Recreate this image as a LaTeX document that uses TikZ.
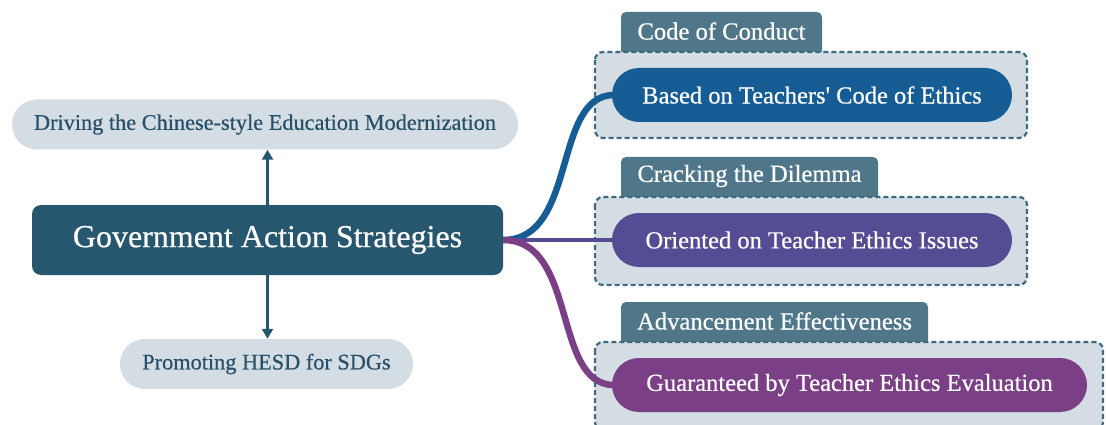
\documentclass[tikz,border=0pt]{standalone}
\usepackage{fontspec}
\setmainfont{Liberation Serif}
\newfontfamily\labelfont{Liberation Serif}[FakeBold=0.5]
\usetikzlibrary{arrows.meta}
\definecolor{rootfill}{HTML}{27566F}
\definecolor{palefill}{HTML}{D3DDE3}
\definecolor{tabfill}{HTML}{507689}
\definecolor{dashcol}{HTML}{3E6A82}
\definecolor{blueA}{HTML}{175D95}
\definecolor{violetB}{HTML}{554D94}
\definecolor{purpleC}{HTML}{7A3F84}
\definecolor{darktext}{HTML}{27506A}
\begin{document}
\begin{tikzpicture}[x=1pt,y=-1pt,
  rootbox/.style={fill=rootfill,rounded corners=9pt,minimum width=471pt,minimum height=70pt,
    text=white,font=\labelfont\fontsize{32}{34}\selectfont,inner sep=0pt},
  sidepill/.style={fill=palefill,rounded corners=25pt,minimum height=50pt,
    text=darktext,font=\labelfont\fontsize{22.3}{24}\selectfont,inner sep=0pt},
  groupbox/.style={fill=palefill,draw=dashcol,line width=2.2pt,dash pattern=on 5pt off 3pt,
    rounded corners=8pt},
  tabbox/.style={fill=tabfill,rounded corners=5pt},
  tablabel/.style={text=white,font=\labelfont\fontsize{24.6}{26}\selectfont,inner sep=0pt},
  itempill/.style={rounded corners=27pt,minimum height=54pt,text=white,
    font=\labelfont\fontsize{24.5}{26}\selectfont,inner sep=0pt},
  vlink/.style={draw=rootfill,line width=2.4pt,-{Triangle[length=10pt,width=11pt]}},
  branch/.style={line width=6.5pt}
]
\useasboundingbox (0,0) rectangle (1106,425);
\clip (0,0) rectangle (1106,425);

% central topic and the two side topics
\node[rootbox] (root) at (267.5,240) {Government Action Strategies};
\node[sidepill,minimum width=506pt] (top) at (265,124.5) {Driving the Chinese-style Education Modernization};
\node[sidepill,minimum width=293pt] (bottom) at (266.5,364) {Promoting HESD for SDGs};

\draw[vlink] (root.north) -- (root.north |- top.south);
\draw[vlink] (root.south) -- (root.south |- bottom.north);

% group tabs (drawn first so the dashed boxes overlap their lower edge)
\path[tabbox] (621,12) rectangle (822,60);
\node[tablabel] (tab1) at (721.5,31) {Code of Conduct};
\path[tabbox] (621,157) rectangle (878,205);
\node[tablabel] (tab2) at (749.5,176) {Cracking the Dilemma};
\path[tabbox] (621,302) rectangle (928,350);
\node[tablabel] (tab3) at (774.5,321) {Advancement Effectiveness};

% dashed group boxes
\draw[groupbox] (595,52) rectangle (1027,138);
\draw[groupbox] (595,197) rectangle (1027,285);
\draw[groupbox] (595,342) rectangle (1103,430);

% branch connectors, ending at the left ends of the item pills
\coordinate (end1) at (614,95);
\coordinate (end2) at (614,240);
\coordinate (end3) at (614,385);
\draw[branch,draw=blueA] (root.east) .. controls (578,240) and (552,95) .. (end1);
\draw[line width=4.5pt,draw=violetB] (root.east) -- (end2);
\draw[branch,draw=purpleC] (root.east) .. controls (578,240) and (552,385) .. (end3);

% item pills
\node[itempill,fill=blueA,minimum width=400pt] (item1) at (812,95) {Based on Teachers' Code of Ethics};
\node[itempill,fill=violetB,minimum width=400pt] (item2) at (812,240) {Oriented on Teacher Ethics Issues};
\node[itempill,fill=purpleC,minimum width=475pt] (item3) at (849.5,385) {Guaranteed by Teacher Ethics Evaluation};
\end{tikzpicture}
\end{document}
